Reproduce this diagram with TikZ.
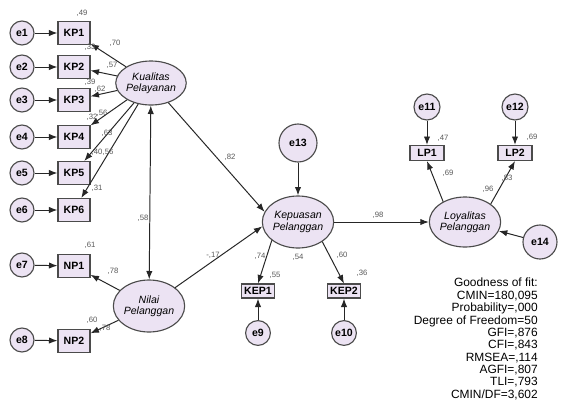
\documentclass[tikz,border=0pt]{standalone}
\usepackage{fontspec}
\setmainfont{Liberation Sans}
\usetikzlibrary{positioning,shapes.geometric,arrows.meta,calc}
\definecolor{lavender}{RGB}{236,227,243}
\definecolor{rim}{RGB}{75,75,75}

\begin{document}
\begin{tikzpicture}[
    x=0.025cm, y=-0.025cm,
    >={Latex[length=6pt,width=4.5pt]},
    err/.style={
        draw=rim,
        circle,
        fill=lavender,
        line width=0.8pt,
        inner sep=0pt,
        minimum size=0.6cm,
        font=\fontsize{7.5}{8}\selectfont\bfseries
    },
    obs/.style={
        draw=rim,
        rectangle,
        fill=lavender,
        line width=0.8pt,
        inner sep=0pt,
        minimum width=0.8cm,
        minimum height=0.575cm,
        font=\fontsize{7.5}{8}\selectfont\bfseries
    },
    lat/.style={
        draw=rim,
        ellipse,
        fill=lavender,
        line width=0.8pt,
        inner sep=0pt,
        align=center,
        font=\fontsize{7.5}{8}\selectfont\itshape
    },
    coef/.style={font=\fontsize{5.5}{6}\selectfont, text=black!65, inner sep=0pt},
    link/.style={->, line width=0.7pt, draw=black!85}
]
\useasboundingbox[fill=white] (0,0) rectangle (561,410);

% latent variables
\node[lat, minimum width=1.55cm, minimum height=1.1cm] (kq) at (151,83) {Kualitas\\Pelayanan};
\node[lat, minimum width=1.6cm, minimum height=1.3cm] (nl) at (149,306) {Nilai\\Pelanggan};
\node[lat, minimum width=1.6cm, minimum height=1.3cm] (kep) at (298,222) {Kepuasan\\Pelanggan};
\node[lat, minimum width=1.55cm, minimum height=1.25cm] (loy) at (465,222) {Loyalitas\\Pelanggan};

% indicators of Kualitas Pelayanan
\foreach \i/\y in {1/33,2/67,3/100,4/137,5/173,6/210} {
    \node[err] (e\i) at (22,\y) {e\i};
    \node[obs] (kp\i) at (74,\y) {KP\i};
    \draw[link] (e\i) -- (kp\i);
    \draw[link] (kq) -- (kp\i);
}

% indicators of Nilai Pelanggan
\node[err] (e7) at (22,265) {e7};
\node[obs] (np1) at (74,266) {NP1};
\node[err] (e8) at (22,340) {e8};
\node[obs] (np2) at (74,341) {NP2};
\draw[link] (e7) -- (np1);
\draw[link] (e8) -- (np2);
\draw[link] (nl) -- (np1);
\draw[link] (nl) -- (np2);

% Kepuasan Pelanggan
\node[err, minimum size=0.95cm] (e13) at (298,143) {e13};
\node[obs, minimum width=0.825cm, minimum height=0.35cm] (kep1) at (258,291) {KEP1};
\node[obs, minimum width=0.825cm, minimum height=0.35cm] (kep2) at (344,291) {KEP2};
\node[err, minimum size=0.62cm] (e9) at (258,333) {e9};
\node[err, minimum size=0.62cm] (e10) at (344,333) {e10};
\draw[link] (e13) -- (kep);
\draw[link] (kep.215) -- (kep1.north);
\draw[link] (kep.321) -- (kep2.north);
\draw[link] (e9) -- (kep1);
\draw[link] (e10) -- (kep2);

% Loyalitas Pelanggan
\node[obs, minimum width=0.85cm, minimum height=0.375cm] (lp1) at (427,153) {LP1};
\node[obs, minimum width=0.85cm, minimum height=0.375cm] (lp2) at (515,153) {LP2};
\node[err, minimum size=0.65cm] (e11) at (427,107) {e11};
\node[err, minimum size=0.65cm] (e12) at (515,107) {e12};
\node[err, minimum size=0.85cm] (e14) at (540,242) {e14};
\draw[link] (e11) -- (lp1);
\draw[link] (e12) -- (lp2);
\draw[link] (loy.137) -- (lp1.south);
\draw[link] (loy.35) -- (lp2.south);
\draw[link] (e14) -- (loy);

% structural paths
\draw[link, <->] (kq) -- (nl);
\draw[link] (kq) -- (kep.163);
\draw[link] (nl) -- (kep.187);
\draw[link] (kep) -- (loy);

% estimates
\foreach \n/\x/\y/\t in {
    1/82/13/{,49}, 2/90/47/{,33}, 3/90/82/{,39}, 4/92/117/{,32}, 5/97/152/{,40}, 6/97/188/{,31},
    7/115/43/{,70}, 8/112/65/{,57}, 9/100/89/{,62}, 10/102/113/{,56}, 11/107/133/{,63}, 12/108/152/{,56},
    13/230/157/{,82}, 14/143/218/{,58}, 15/213/255/{-,17},
    16/90/245/{,61}, 17/113/271/{,78}, 18/92/320/{,60}, 19/105/328/{,78},
    20/378/215/{,98}, 21/260/256/{,74}, 22/298/257/{,54}, 23/342/255/{,60}, 24/275/275/{,55}, 25/362/273/{,36},
    26/448/173/{,69}, 27/507/178/{,83}, 28/488/189/{,96}, 29/443/138/{,47}, 30/532/137/{,69}} {
    \node[coef] (c\n) at (\x,\y) {\t};
}

% fit indices
\node[anchor=north east, align=right, inner sep=0pt, font=\fontsize{8.5}{8.8}\selectfont] (gof) at (538,278) {Goodness of fit:\\CMIN=180,095\\Probability=,000\\Degree of Freedom=50\\GFI=,876\\CFI=,843\\RMSEA=,114\\AGFI=,807\\TLI=,793\\CMIN/DF=3,602};

\end{tikzpicture}
\end{document}
